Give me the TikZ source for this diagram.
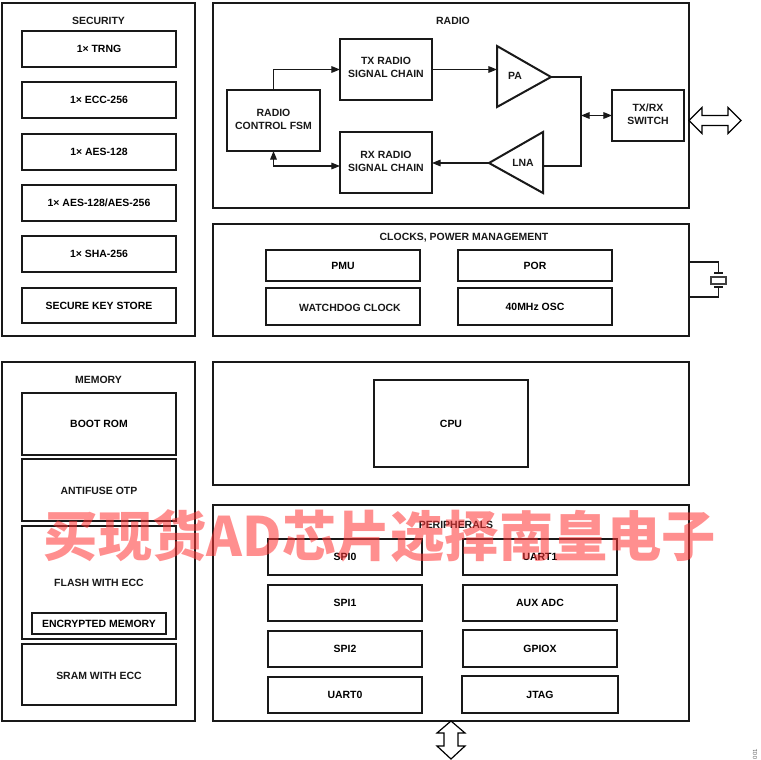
\documentclass[tikz,border=0pt]{standalone}
\usepackage{fontspec}
\setmainfont{Liberation Sans}
\newfontfamily\cjkwm{Noto Sans CJK SC}
\usetikzlibrary{arrows.meta,calc}
\tikzset{
 boxs/.style={draw=black!90,line width=1.5pt,inner sep=0pt,outer sep=0pt,fill=white,align=center,font=\lbl},
 txt/.style={inner sep=0pt,align=center,font=\lbl,text=black!90},
 conn/.style={draw=black!90,line width=0.8pt},
 tipa/.style={-{Triangle[length=6.5pt,width=5pt]}},
 tipb/.style={{Triangle[length=6.5pt,width=5pt]}-{Triangle[length=6.5pt,width=5pt]}},
 bus/.style={draw=black,line width=0.9pt,line join=miter,fill=white},
 tri/.style={draw=black!90,line width=1.5pt,line join=miter,fill=white}
}
\newcommand\lbl{\fontsize{7.85pt}{9.6pt}\selectfont\bfseries}
\newcommand\bx[6]{\node[boxs,minimum width={(#4-#2)*0.75pt},minimum height={(#5-#3)*0.75pt}] (#1) at ({(#2+#4)/2},{(#3+#5)/2}) {#6};}
\begin{document}
\begin{tikzpicture}[x=0.75pt,y=-0.75pt]
\useasboundingbox (0,0) rectangle (760,760);
% Security
\bx{security}{2}{3}{195}{336}{}
\node[txt] (securityt) at (98.5,21) {SECURITY};
\bx{trng}{22}{31}{176}{67}{1× TRNG}
\bx{ecc}{22}{82}{176}{118}{1× ECC-256}
\bx{aesa}{22}{134}{176}{170}{1× AES-128}
\bx{aesb}{22}{185}{176}{221}{1× AES-128/AES-256}
\bx{sha}{22}{236}{176}{272}{1× SHA-256}
\bx{sks}{22}{288}{176}{323}{SECURE KEY STORE}
% Radio
\bx{radio}{213}{3}{689}{208}{}
\node[txt] (radiot) at (453,21) {RADIO};
\bx{fsm}{227}{90}{320}{151}{}
\node[txt] (fsmt) at (273.5,119) {RADIO\\CONTROL FSM};
\bx{tx}{340}{39}{432}{100}{}
\node[txt] (txt) at (386,67) {TX RADIO\\SIGNAL CHAIN};
\bx{rx}{340}{132}{432}{193}{}
\node[txt] (rxt) at (386,161) {RX RADIO\\SIGNAL CHAIN};
\bx{sw}{612}{90}{684}{141}{}
\node[txt] (swt) at (648,114.5) {TX/RX\\SWITCH};
\coordinate (paa) at (497,46);
\coordinate (pab) at (497,107);
\coordinate (patip) at (551,77);
\coordinate (lnaa) at (543,132);
\coordinate (lnab) at (543,193);
\coordinate (lnatip) at (489,163);
\coordinate (pain) at (497,69.5);
\coordinate (lnaout) at (543,166);
\coordinate (rxin) at (340,166);
\coordinate (junc) at (581,115.5);
\draw[tri] (paa) -- (patip) -- (pab) -- cycle;
\draw[tri] (lnaa) -- (lnatip) -- (lnab) -- cycle;
\node[txt] (pat) at (515,75.5) {PA};
\node[txt] (lnat) at (523,163) {LNA};
\draw[conn,tipa] (fsm.north) |- (tx.west);
\draw[conn,tipa] (tx.east) -- (pain);
\draw[conn] (patip) -| (junc) |- (lnaout);
\draw[conn,tipa] (lnatip) -- (rx.east |- lnatip);
\draw[conn,tipb] (fsm.south) |- (rxin);
\draw[conn,tipb] (junc) -- (sw.west |- junc);
\coordinate (rf) at (689,120.5);
\draw[bus] (rf) -- ++(13,-13) -- ++(0,8) -- ++(26,0) -- ++(0,-8) -- ++(13,13) -- ++(-13,13) -- ++(0,-8) -- ++(-26,0) -- ++(0,8) -- cycle;
% Clocks
\bx{clk}{213}{224}{689}{336}{}
\node[txt] (clkt) at (464,238) {CLOCKS, POWER MANAGEMENT};
\bx{pmu}{266}{250}{420}{281}{PMU}
\bx{por}{458}{250}{612}{281}{POR}
\bx{wdb}{266}{288}{420}{325}{}
\node[txt] (wdt) at (350,308) {WATCHDOG CLOCK};
\bx{osc}{458}{288}{612}{325}{40MHz OSC}
\coordinate (xa) at (689,262);
\coordinate (xb) at (689,297);
\coordinate (xpa) at (718.5,273);
\coordinate (xpb) at (718.5,287);
\draw[conn,line width=1.1pt] (xa) -| (xpa);
\draw[conn,line width=1.1pt] (xb) -| (xpb);
\draw[conn,line width=1.1pt] (714,273) -- (723,273);
\draw[conn,line width=1.1pt] (714,287) -- (723,287);
\draw[draw=black!75,line width=1pt] (711,277) rectangle (726,284);
% Memory
\bx{mem}{2}{362}{195}{721}{}
\node[txt] (memt) at (98.5,380) {MEMORY};
\bx{boot}{22}{393}{176}{455}{BOOT ROM}
\bx{otp}{22}{459}{176}{521}{}
\node[txt] (otpt) at (99,491) {ANTIFUSE OTP};
\bx{flash}{22}{526}{176}{639}{}
\node[txt] (flasht) at (99,583) {FLASH WITH ECC};
\bx{enc}{32}{613}{166}{634}{ENCRYPTED MEMORY}
\bx{sram}{22}{644}{176}{705}{}
\node[txt] (sramt) at (99,675.5) {SRAM WITH ECC};
% CPU
\bx{cpuo}{213}{362}{689}{485}{}
\bx{cpu}{374}{380}{528}{467}{CPU}
% Peripherals
\bx{per}{213}{505}{689}{721}{}
\node[txt] (pert) at (456,525) {PERIPHERALS};
\bx{spia}{268}{539}{422}{575}{SPI0}
\bx{uarta}{463}{539}{617}{575}{UART1}
\bx{spib}{268}{585}{422}{621}{SPI1}
\bx{aux}{463}{585}{617}{621}{AUX ADC}
\bx{spic}{268}{631}{422}{667}{SPI2}
\bx{gpio}{463}{630}{617}{667}{GPIOX}
\bx{uartb}{268}{677}{422}{713}{UART0}
\bx{jtag}{462}{676}{618}{713}{JTAG}
\coordinate (busb) at (451,721);
\draw[bus] (busb) -- ++(14,12) -- ++(-7,0) -- ++(0,13) -- ++(7,0) -- ++(-14,13) -- ++(-14,-13) -- ++(7,0) -- ++(0,-13) -- ++(-7,0) -- cycle;
\node[inner sep=0pt,rotate=90,text=black!60,font=\fontsize{4.5pt}{5pt}\selectfont] (fig) at (755,754) {001};
% Watermark
\node[inner sep=0pt,text=red!80!white,opacity=0.55,font=\fontsize{40.7pt}{42pt}\selectfont\cjkwm\bfseries] (wm) at (380,536) {买现货AD芯片选择南皇电子};
\end{tikzpicture}
\end{document}
